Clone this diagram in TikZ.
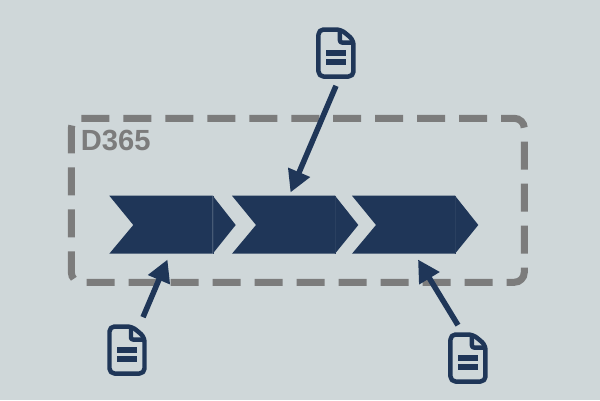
\documentclass[tikz,border=0pt]{standalone}
\usepackage{fontspec}
\setmainfont{Liberation Sans}
\usetikzlibrary{arrows.meta}
\definecolor{fond}{HTML}{CFD7D9}
\definecolor{marine}{HTML}{1F3658}
\definecolor{gris}{HTML}{7C7C7C}
\tikzset{
    docnode/.style={minimum width=0.78cm, minimum height=1.3cm, inner sep=0pt},
    fleche/.style={draw=marine, line width=0.11cm, -{Triangle[length=0.44cm, width=0.45cm]}},
    docicon/.pic={
        % Contour de la feuille, coin replie
        \draw[marine, line width=0.09cm, rounded corners=0.1cm, line join=round]
            (-17.5,-23.5) -- (5,-23.5) -- (17.5,-13) -- (17.5,23.5) -- (-17.5,23.5) -- cycle;
        \draw[marine, line width=0.09cm, line join=round, rounded corners=0.04cm]
            (4,-23.5) -- (4,-10.5) -- (17.5,-10.5);
        % Les deux barres de texte
        \fill[marine] (-10,-2.7) rectangle (10,2.7);
        \fill[marine] (-10,6.2) rectangle (10,11.6);
    }
}
\begin{document}
\begin{tikzpicture}[x=0.02cm, y=-0.02cm]

    % Fond
    \fill[fond] (0,0) rectangle (600,400);

    % Cadre en pointilles
    \draw[gris, line width=0.14cm, dash pattern=on 0.56cm off 0.28cm]
        (81.3,118.3) -- (514.3,118.3) arc[start angle=90, end angle=0, radius=0.2cm]
        -- (524.3,272.3) arc[start angle=0, end angle=-90, radius=0.2cm]
        -- (81.3,282.3) arc[start angle=270, end angle=180, radius=0.2cm]
        -- (71.3,128.3) arc[start angle=180, end angle=90, radius=0.2cm];
    \node[gris, anchor=west, inner sep=0pt, font=\fontsize{16.6}{16.6}\bfseries] (titre) at (80.5,140) {D365};

    % Les trois chevrons : gauche / fin du corps / pointe
    \foreach \xl/\xb/\xt in {109.3/212.7/235.7, 232/335/358.3, 352/455/478.3} {
        \fill[marine] (\xl,195.7) -- (\xb,195.7) -- (\xb,253.7) -- (\xl,253.7) -- (\xl+24,225) -- cycle;
        \fill[marine] (\xb,195.7) -- (\xt,225) -- (\xb,253.7) -- cycle;
        \draw[marine!95!white, line width=0.2pt] (\xb,195.7) -- (\xb,253.7);
    }

    % Documents
    \node[docnode] (docH) at (336,53) {};
    \node[docnode] (docG) at (127,350) {};
    \node[docnode] (docD) at (468,358) {};
    \pic at (docH) {docicon};
    \pic at (docG) {docicon};
    \pic at (docD) {docicon};

    % Pointes des fleches sur les chevrons
    \coordinate (cibleH) at (290.5,192.5);
    \coordinate (cibleG) at (167.5,259.5);
    \coordinate (cibleD) at (418,259.5);

    \draw[fleche] (docH.south) -- (cibleH);
    \draw[fleche] (docG.64) -- (cibleG);
    \draw[fleche] (docD.107) -- (cibleD);

\end{tikzpicture}
\end{document}
